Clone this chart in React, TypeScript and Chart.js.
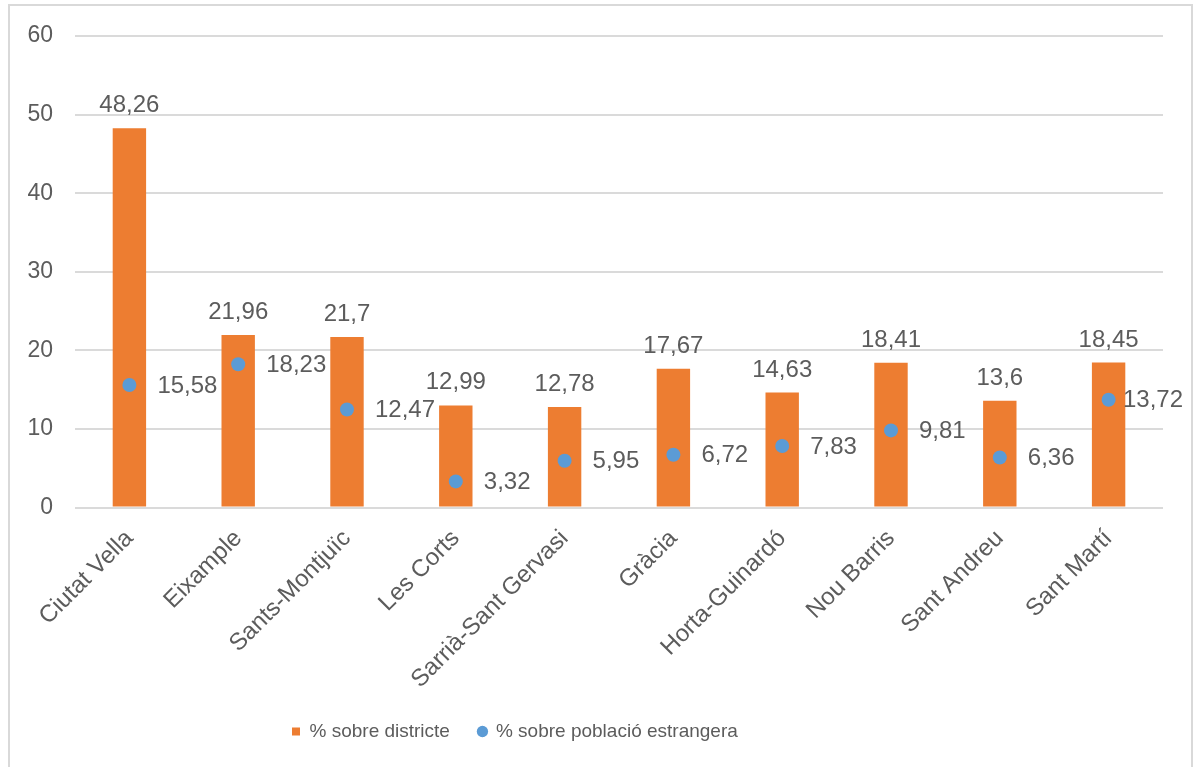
import React, { useEffect, useRef } from "react";
import { Chart, registerables } from "chart.js";

Chart.register(...registerables);

const districts = [
  "Ciutat Vella",
  "Eixample",
  "Sants-Montjuïc",
  "Les Corts",
  "Sarrià-Sant Gervasi",
  "Gràcia",
  "Horta-Guinardó",
  "Nou Barris",
  "Sant Andreu",
  "Sant Martí",
];

const sobreDistricte = [48.26, 21.96, 21.7, 12.99, 12.78, 17.67, 14.63, 18.41, 13.6, 18.45];
const sobrePoblacioEstrangera = [15.58, 18.23, 12.47, 3.32, 5.95, 6.72, 7.83, 9.81, 6.36, 13.72];

const seriesNames = ["% sobre districte", "% sobre població estrangera"];

const yTicks = [0, 10, 20, 30, 40, 50, 60];

const ORANGE = "#ED7D31";
const BLUE = "#5B9BD5";
const TEXT = "#5c5c5c";
const FONT = "'Liberation Sans', Arial, sans-serif";

const fmt = (v: number) => String(v).replace(".", ",");

const dataLabelPlugin = {
  id: "dataLabels",
  afterDatasetsDraw(chart: any) {
    const ctx = chart.ctx;
    ctx.save();
    ctx.font = `24px ${FONT}`;
    ctx.fillStyle = TEXT;
    chart.data.datasets.forEach((ds: any, di: number) => {
      const meta = chart.getDatasetMeta(di);
      meta.data.forEach((el: any, i: number) => {
        const txt = fmt(ds.data[i]);
        if (ds.type === "bar") {
          ctx.textAlign = "center";
          ctx.textBaseline = "alphabetic";
          ctx.fillText(txt, el.x, el.y - 16);
        } else {
          ctx.textAlign = "left";
          ctx.textBaseline = "middle";
          const w = ctx.measureText(txt).width;
          const x = Math.min(el.x + 28, chart.width - w - 8);
          ctx.fillText(txt, x, el.y + 1);
        }
      });
    });
    ctx.restore();
  },
};

const legendShiftPlugin = {
  id: "legendShift",
  afterLayout(chart: any) {
    const lg = chart.legend;
    if (lg) {
      const w = lg.right - lg.left;
      lg.left = 253.5;
      lg.right = lg.left + w;
    }
  },
};

export default function App() {
  const ref = useRef<HTMLCanvasElement | null>(null);

  useEffect(() => {
    if (!ref.current) return;
    const chart = new Chart(ref.current, {
      type: "bar",
      data: {
        labels: districts,
        datasets: [
          {
            type: "bar",
            label: seriesNames[0],
            data: sobreDistricte,
            backgroundColor: ORANGE,
            borderWidth: 0,
            categoryPercentage: 1,
            barPercentage: 0.307,
            order: 2,
          } as any,
          {
            type: "line",
            label: seriesNames[1],
            data: sobrePoblacioEstrangera,
            showLine: false,
            pointRadius: 7,
            pointHoverRadius: 7,
            pointBackgroundColor: BLUE,
            pointBorderWidth: 0,
            borderColor: BLUE,
            backgroundColor: BLUE,
            order: 1,
          } as any,
        ],
      },
      options: {
        animation: false,
        responsive: false,
        maintainAspectRatio: false,
        layout: { padding: { top: 30, right: 28, bottom: 16, left: 0 } },
        plugins: {
          tooltip: { enabled: false },
          legend: {
            position: "bottom",
            align: "start",
            labels: {
              usePointStyle: true,
              boxWidth: 8,
              boxHeight: 8,
              padding: 28.5,
              color: TEXT,
              font: { family: FONT, size: 19 },
              generateLabels(chart: any) {
                const items = Chart.defaults.plugins.legend.labels.generateLabels(chart);
                items.sort((a: any, b: any) => a.datasetIndex - b.datasetIndex);
                return items.map((it: any) => ({
                  ...it,
                  pointStyle: it.datasetIndex === 0 ? "rect" : "circle",
                  fillStyle: it.datasetIndex === 0 ? ORANGE : BLUE,
                  strokeStyle: it.datasetIndex === 0 ? ORANGE : BLUE,
                  lineWidth: 0,
                }));
              },
            },
          },
        },
        scales: {
          x: {
            offset: true,
            grid: { display: false, drawTicks: false },
            border: { display: false },
            ticks: {
              minRotation: 45,
              maxRotation: 45,
              autoSkip: false,
              padding: 17,
              color: TEXT,
              font: { family: FONT, size: 24 },
            },
            afterFit(scale: any) {
              scale.height = 186;
            },
          },
          y: {
            min: 0,
            max: 60,
            afterBuildTicks(scale: any) {
              scale.ticks = yTicks.map((v) => ({ value: v }));
            },
            grid: { color: "#dadada", lineWidth: 2, drawTicks: false },
            border: { display: false },
            ticks: {
              padding: 22,
              color: TEXT,
              font: { family: FONT, size: 23 },
            },
            afterFit(scale: any) {
              scale.width = 65;
              scale.paddingTop = 0;
              scale.paddingBottom = 0;
            },
          },
        },
      },
      plugins: [dataLabelPlugin, legendShiftPlugin],
    } as any);
    return () => chart.destroy();
  }, []);

  return (
    <div
      style={{
        position: "absolute",
        left: 8,
        top: 4,
        width: 1181,
        height: 770,
        border: "2px solid #d9d9d9",
        background: "#fff",
        overflow: "hidden",
      }}
    >
      <canvas ref={ref} width={1181} height={761} style={{ display: "block", width: 1181, height: 761 }} />
    </div>
  );
}
